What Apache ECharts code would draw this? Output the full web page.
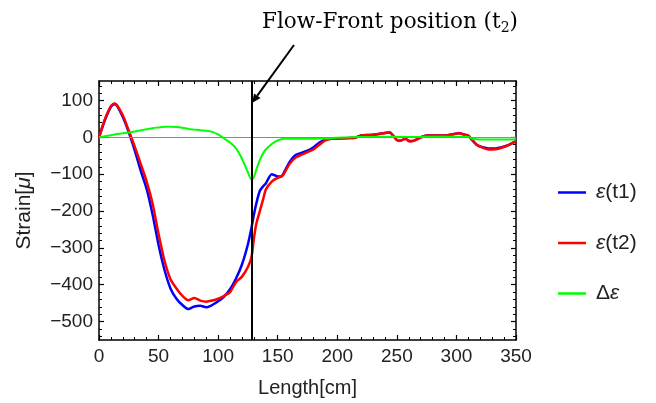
<!DOCTYPE html>
<html><head><meta charset="utf-8">
<script src="https://cdn.jsdelivr.net/npm/echarts@6/dist/echarts.min.js"></script>
<style>html,body{margin:0;padding:0;background:#fff}#c{width:656px;height:403px}</style>
</head><body><div id="c"></div>
<script>
const lengths = [0,5,10,13,15,20,25,30,35,40,45,50,55,60,65,70,75,80,85,90,95,100,105,110,115,120,125,128,130,132,135,138,140,145,150,153,155,160,165,170,175,180,185,190,195,200,210,215,220,230,240,244,247,250,253,257,261,265,270,275,280,290,298,302,306,310,313,317,322,327,333,338,343,350];
const strainT1 = [0,47,83,90,86,55,14,-35,-90,-140,-210,-292,-360,-410,-438,-455,-466,-459,-457,-461,-455,-445,-432,-412,-383,-345,-290,-245,-210,-180,-145,-132,-125,-100,-106,-106,-97,-67,-48,-42,-36,-27,-14,-6,-3,-3,-2,-1,5,7,12,13,4,-7,-9,-4,-10,-8,0,5,5,5,9,11,8,4,-7,-20,-27,-30,-30,-27,-22,-10];
const strainT2 = [0,50,85,92,88,60,18,-25,-72,-120,-180,-262,-335,-385,-410,-430,-442,-436,-443,-446,-443,-438,-430,-420,-393,-378,-352,-325,-275,-235,-200,-165,-142,-120,-110,-106,-100,-72,-55,-47,-40,-33,-20,-8,-4,-3,-2,-1,5,7,12,14,5,-7,-9,-4,-11,-8,0,5,5,5,9,12,8,5,-6,-20,-28,-33,-32,-28,-22,-10];
const deltaStrain = [0,3,6,8,9,11,13,16,19,22,25,27,29,29,28,26,23,21,19,18,15,8,-3,-14,-30,-58,-95,-115,-108,-88,-62,-42,-33,-18,-8,-5,-4,-4,-4,-4,-4,-4,-3,-3,-2,-1,0,1,1,1,2,2,2,1,1,1,1,1,1,2,2,2,2,2,2,1,-3,-5,-6,-6,-6,-6,-6,-5];
const seriesNames = ['ε(t1)', 'ε(t2)', 'Δε'];
const xTicks = [0,50,100,150,200,250,300,350];
const yTicks = [-500,-400,-300,-200,-100,0,100];
const yMinorTicks = [-540,-520,-500,-480,-460,-440,-420,-400,-380,-360,-340,-320,-300,-280,-260,-240,-220,-200,-180,-160,-140,-120,-100,-80,-60,-40,-20,0,20,40,60,80,100,120,140];
const flowFront = 128;

const FONT = 'Liberation Sans, Arial, sans-serif';
const SERIF = 'DejaVu Serif, Liberation Serif, serif';
const TXT = '#222';
const chart = echarts.init(document.getElementById('c'), null, {renderer:'canvas'});
const pairs = arr => lengths.map((x,i)=>[x, arr[i]]);
const fmt = v => (v < 0 ? '\u2212' + Math.abs(v) : String(v));

const baseX = {type:'value', min:0, max:350, interval:50,
  axisLine:{show:true, onZero:false, lineStyle:{color:'#000', width:1.5}},
  axisTick:{show:true, inside:true, length:5, lineStyle:{color:'#000', width:1.2}},
  minorTick:{show:true, splitNumber:5, length:3, lineStyle:{color:'#000', width:1}},
  splitLine:{show:false}};
const baseY = (pos, vals, len, line, labels) => ({type:'value', min:-550, max:153, position:pos,
  axisLine:{show:line, onZero:false, lineStyle:{color:'#000', width:1.5}},
  axisTick:{show:true, inside:true, length:len, customValues:vals, lineStyle:{color:'#000', width: len>4?1.2:1}},
  axisLabel:{show:labels, customValues:vals, formatter:fmt, fontSize:19, fontFamily:FONT, color:TXT, margin:6},
  splitLine:{show:false}});

const option = {
  animation:false,
  backgroundColor:'#fff',
  grid:{left:99, right:140, top:81, bottom:63, containLabel:false},
  xAxis:[
    Object.assign({}, baseX, {position:'bottom', name:'Length[cm]', nameLocation:'middle', nameGap:38,
      nameTextStyle:{fontSize:20, fontFamily:FONT, color:TXT},
      axisLabel:{show:true, fontSize:19, fontFamily:FONT, color:TXT, margin:7}}),
    Object.assign({}, baseX, {position:'top', axisLabel:{show:false}})
  ],
  yAxis:[
    Object.assign(baseY('left', yTicks, 5, true, true), {name:'Strain[{i|μ}]', nameLocation:'middle', nameGap:64, nameRotate:90,
      nameTextStyle:{fontSize:21, fontFamily:FONT, color:TXT, rich:{i:{fontStyle:'italic', fontSize:21, fontFamily:FONT, color:TXT}}}}),
    baseY('left', yMinorTicks, 3, false, false),
    baseY('right', yTicks, 5, true, false),
    baseY('right', yMinorTicks, 3, false, false)
  ],
  legend:{
    orient:'vertical', left:553, top:176, itemWidth:28, itemHeight:2.5, itemGap:27.5, icon:'rect',
    data:seriesNames,
    formatter: n => n.replace('ε', '{i|ε}'),
    textStyle:{fontSize:21, fontFamily:FONT, color:TXT, lineHeight:23, padding:[0,0,0,5],
      rich:{i:{fontStyle:'italic', fontSize:21, fontFamily:FONT, color:TXT}}}
  },
  series:[
    {type:'line', data:[], silent:true, markLine:{silent:true, symbol:'none', label:{show:false},
      lineStyle:{color:'#8a8a8a', width:1.2, type:'solid'}, data:[{yAxis:0}]}},
    {name:seriesNames[0], type:'line', data:pairs(strainT1), showSymbol:false, symbol:'none', smooth:0.25,
      lineStyle:{color:'#0000ff', width:2.5}, itemStyle:{color:'#0000ff'}},
    {name:seriesNames[1], type:'line', data:pairs(strainT2), showSymbol:false, symbol:'none', smooth:0.25,
      lineStyle:{color:'#ff0000', width:2.5}, itemStyle:{color:'#ff0000'}},
    {name:seriesNames[2], type:'line', data:pairs(deltaStrain), showSymbol:false, symbol:'none', smooth:0.25,
      lineStyle:{color:'#00ff00', width:2}, itemStyle:{color:'#00ff00'},
      markLine:{silent:true, symbol:'none', label:{show:false}, lineStyle:{color:'#000', width:2, type:'solid'},
        data:[{xAxis:flowFront}]}}
  ],
  graphic:[
    {type:'text', left:262, top:11, style:{text:'Flow-Front position (t{s|2})', fontSize:21.5, fontFamily:SERIF, fill:'#000',
      rich:{s:{fontSize:14, fontFamily:SERIF, fill:'#000', verticalAlign:'bottom', padding:[12,0,0,0]}}}},
    {type:'line', shape:{x1:294, y1:45, x2:257.3, y2:95.7}, style:{stroke:'#000', lineWidth:2}},
    {type:'polygon', shape:{points:[[252,103],[260.5,98.1],[254.1,93.4]]}, style:{fill:'#000'}}
  ]
};
chart.setOption(option);
</script>
</body></html>
